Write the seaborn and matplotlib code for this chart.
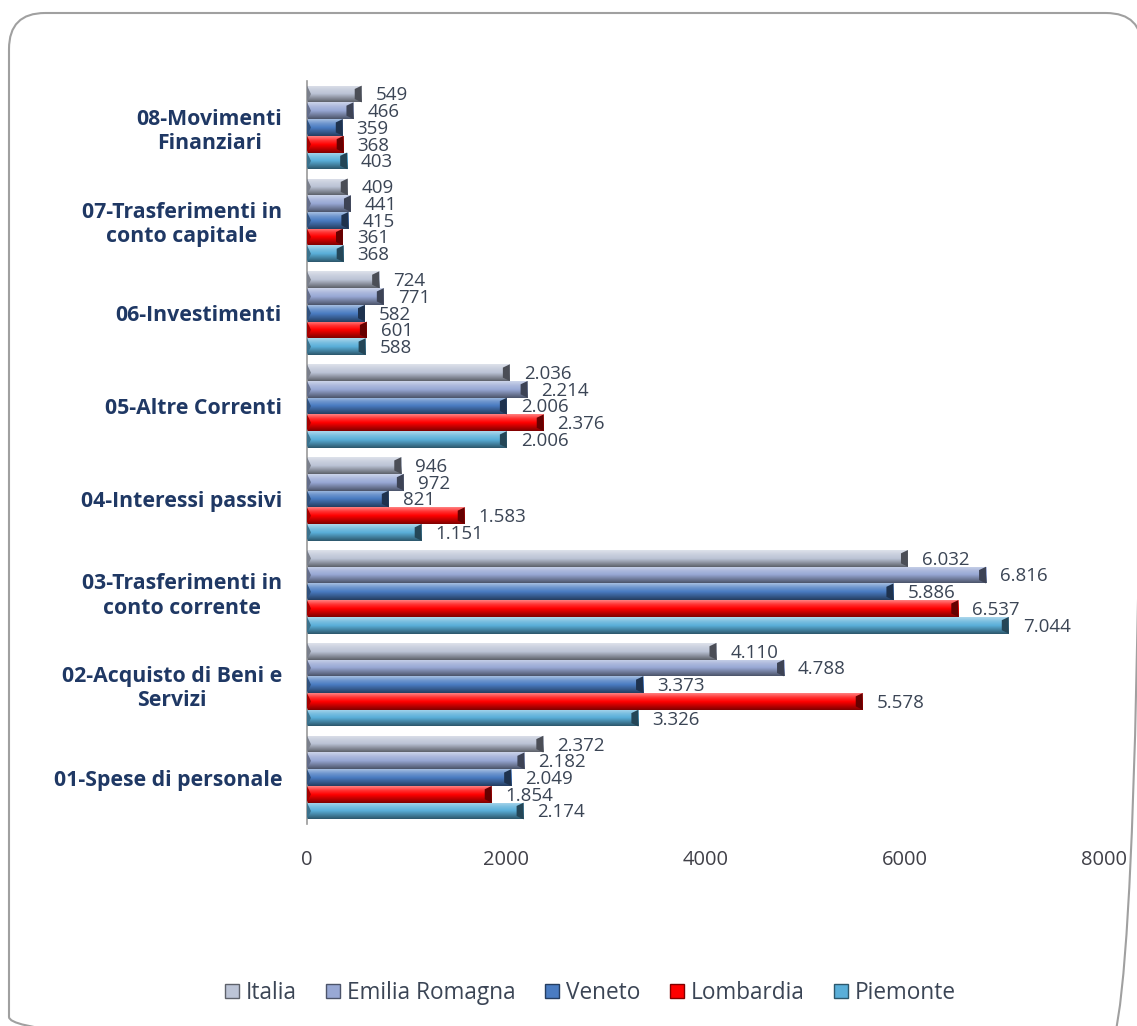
import numpy as np
import pandas as pd
import matplotlib
matplotlib.use("Agg")
import matplotlib.pyplot as plt
import matplotlib.colors as mcolors
from matplotlib.patches import FancyBboxPatch, Patch, Polygon
import seaborn as sns

categories = [
    "08-Movimenti\nFinanziari",
    "07-Trasferimenti in\nconto capitale",
    "06-Investimenti",
    "05-Altre Correnti",
    "04-Interessi passivi",
    "03-Trasferimenti in\nconto corrente",
    "02-Acquisto di Beni e\nServizi",
    "01-Spese di personale",
]
regions = ["Italia", "Emilia Romagna", "Veneto", "Lombardia", "Piemonte"]

italia = [549, 409, 724, 2036, 946, 6032, 4110, 2372]
emilia_romagna = [466, 441, 771, 2214, 972, 6816, 4788, 2182]
veneto = [359, 415, 582, 2006, 821, 5886, 3373, 2049]
lombardia = [368, 361, 601, 2376, 1583, 6537, 5578, 1854]
piemonte = [403, 368, 588, 2006, 1151, 7044, 3326, 2174]

x_ticks = [0, 2000, 4000, 6000, 8000]

palette = {
    "Italia": "#BCC4D6",
    "Emilia Romagna": "#98A8D4",
    "Veneto": "#4A7CC2",
    "Lombardia": "#FF0000",
    "Piemonte": "#5AAFD9",
}

series = [italia, emilia_romagna, veneto, lombardia, piemonte]
df = pd.DataFrame(
    [(c, r, s[i]) for r, s in zip(regions, series) for i, c in enumerate(categories)],
    columns=["categoria", "regione", "valore"],
)

sns.set_theme(style="white")
plt.rcParams["font.family"] = ["Open Sans", "DejaVu Sans"]

W, H = 1137, 1026
fig = plt.figure(figsize=(W / 100, H / 100), dpi=100)

# background layer in pixel units for the rounded frame
bg = fig.add_axes([0, 0, 1, 1], zorder=-1)
bg.set_xlim(0, W)
bg.set_ylim(H, 0)
bg.axis("off")
bg.add_patch(FancyBboxPatch((9, 13), 1133, 1040,
                            boxstyle="round,pad=0,rounding_size=36",
                            facecolor="none", edgecolor="#A0A0A0", linewidth=1.5))

ax = fig.add_axes([307 / W, 1 - 824 / H, 797 / W, 743 / H])

sns.barplot(
    data=df, y="categoria", x="valore", hue="regione",
    order=categories, hue_order=regions, palette=palette,
    orient="h", width=0.9, ax=ax, legend=False, saturation=1,
)


def shade(color, f):
    r, g, b = mcolors.to_rgb(color)
    if f >= 0:
        return (r + (1 - r) * f, g + (1 - g) * f, b + (1 - b) * f)
    return (r * (1 + f), g * (1 + f), b * (1 + f))


# bevelled look: vertical gradient over each bar plus dark end caps
n_cat = len(categories)
for k, reg in enumerate(regions):
    base = palette[reg]
    stops = np.array([shade(base, 0.5), shade(base, 0.2), shade(base, 0.0),
                      shade(base, -0.25), shade(base, -0.5)])
    t = np.linspace(0, 1, 40)
    grad = np.stack([np.interp(t, np.linspace(0, 1, len(stops)), stops[:, c]) for c in range(3)], axis=-1)
    grad = grad[:, None, :]
    for i in range(n_cat):
        p = ax.patches[k * n_cat + i]
        x0, y0 = p.get_x(), p.get_y()
        w, h = p.get_width(), p.get_height()
        im = ax.imshow(grad, extent=[x0, x0 + w, y0 + h, y0], aspect="auto",
                       origin="upper", zorder=2, interpolation="bilinear")
        im.set_clip_path(p)
        cap = 70
        ax.add_patch(Polygon(
            [(x0 + w - cap, y0 + h * 0.2), (x0 + w, y0), (x0 + w, y0 + h),
             (x0 + w - cap, y0 + h * 0.8)],
            closed=True, facecolor=shade(base, -0.6), edgecolor="none", zorder=3))
        ax.add_patch(Polygon(
            [(x0, y0), (x0 + 40, y0 + h / 2), (x0, y0 + h)],
            closed=True, facecolor=shade(base, -0.35), edgecolor="none", zorder=3))
        ax.annotate(f"{int(series[k][i]):,}".replace(",", "."),
                    xy=(x0 + w, y0 + h / 2), xytext=(10, -1), textcoords="offset points",
                    ha="left", va="center", fontsize=13.5, color="#3B4555", zorder=4)

ax.set_xlim(0, 8000)
ax.set_ylim(n_cat - 0.5, -0.5)
ax.set_xticks(x_ticks)
ax.set_xticklabels([str(v) for v in x_ticks], fontsize=14.5, color="#404048")
ax.tick_params(axis="x", length=0, pad=19)
ax.tick_params(axis="y", length=0, pad=18)
for lab in ax.get_yticklabels():
    lab.set_fontsize(15.3)
    lab.set_fontweight("bold")
    lab.set_color("#1F3864")
    lab.set_multialignment("center")
ax.set_xlabel("")
ax.set_ylabel("")
for s in ["top", "right", "bottom"]:
    ax.spines[s].set_visible(False)
ax.spines["left"].set_color("#9A9A9A")
ax.spines["left"].set_linewidth(1.2)
ax.set_facecolor("none")

handles = [Patch(facecolor=palette[r], edgecolor=shade(palette[r], -0.5), linewidth=1.0) for r in regions]
fig.legend(handles, regions, loc="center", bbox_to_anchor=(0.519, 1 - 993 / H), ncol=5,
           frameon=False, fontsize=16.3, handlelength=0.62, handleheight=0.62,
           handletextpad=0.3, columnspacing=1.3, labelcolor="#3B4555")

fig.savefig("out.png", dpi=100, facecolor="white")
